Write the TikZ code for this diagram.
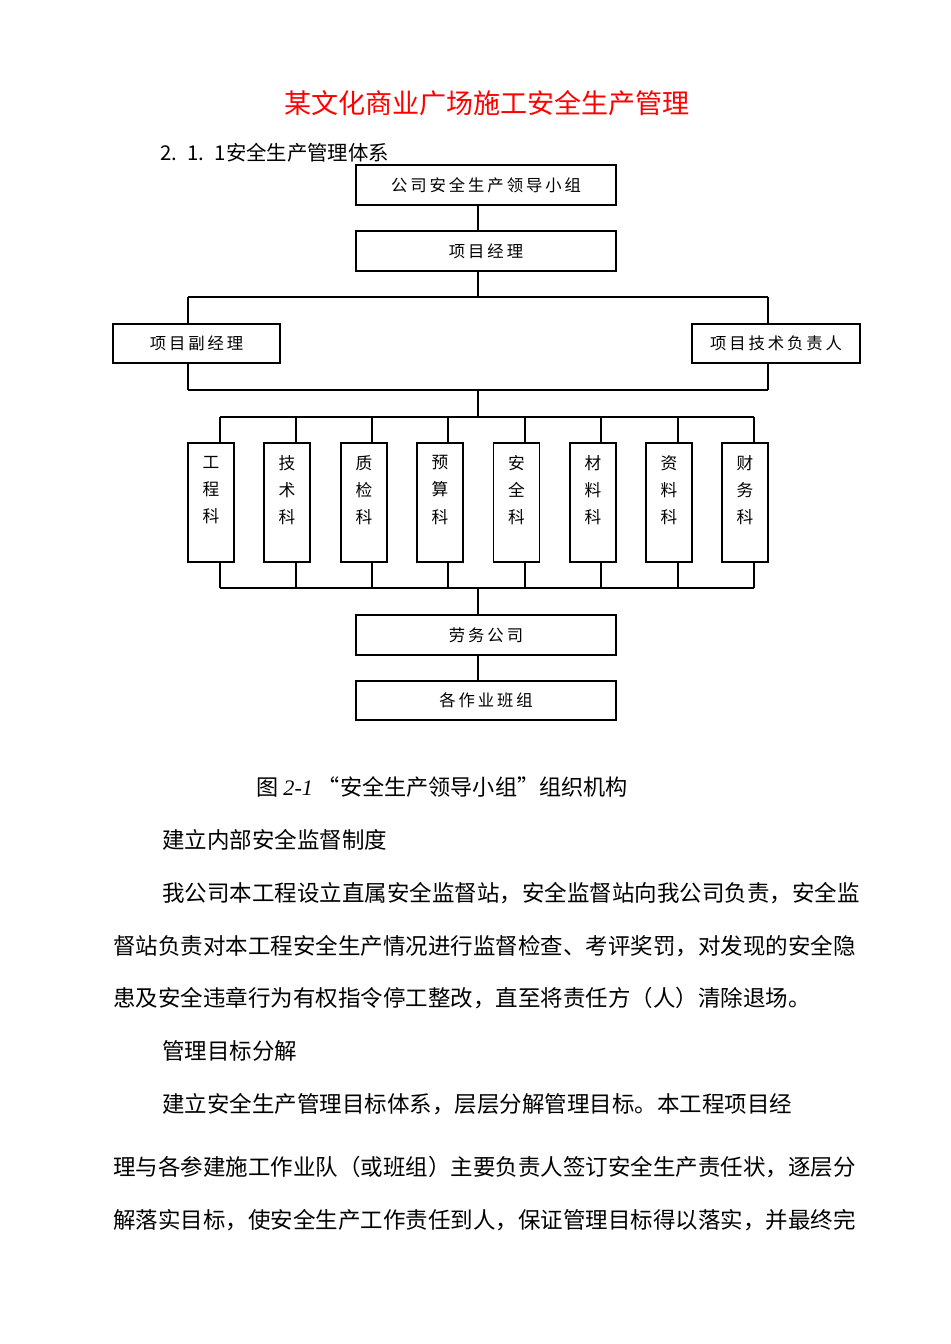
\documentclass[tikz,border=0pt]{standalone}
\usepackage{fontspec}
\setmainfont{Liberation Serif}
\newfontfamily\cjk{Noto Sans CJK SC}
\newfontfamily\cjksp[LetterSpace=18]{Noto Sans CJK SC}
\begin{document}
\begin{tikzpicture}[x=0.02cm,y=-0.02cm,
  box/.style={draw,line width=0.9pt,inner sep=0pt,font=\cjksp\fontsize{9.3pt}{11pt}\selectfont},
  dept/.style={draw,line width=0.9pt,inner sep=0pt,minimum width=0.92cm,minimum height=2.38cm},
  deptt/.style={inner sep=0pt,align=center,font=\cjk\fontsize{9.5pt}{15.4pt}\selectfont},
  ln/.style={line width=0.8pt},
  body/.style={anchor=west,inner sep=0pt,font=\cjk\fontsize{12.8pt}{15pt}\selectfont}]
\useasboundingbox[fill=white] (0,0) rectangle (950,1344);
\node[inner sep=0pt,text=red,font=\cjk\fontsize{15.4pt}{17pt}\selectfont] (title) at (487,103) {某文化商业广场施工安全生产管理};
\node[body,font=\cjk\fontsize{11.6pt}{13pt}\selectfont] (h) at (160,153) {2.\enspace 1.\enspace 1安全生产管理体系};
% boxes
\node[box,minimum width=5.2cm,minimum height=0.8cm] (a) at (486,185) {公司安全生产领导小组};
\node[box,line width=1.4pt,minimum width=5.2cm,minimum height=0.8cm] (b) at (486,251) {项目经理};
\node[box,minimum width=3.34cm,minimum height=0.78cm] (c) at (196.5,343.5) {项目副经理};
\node[box,minimum width=3.36cm,minimum height=0.78cm] (d) at (776,343.5) {项目技术负责人};
\node[box,minimum width=5.2cm,minimum height=0.8cm] (e) at (486,635) {劳务公司};
\node[box,line width=1.1pt,minimum width=5.2cm,minimum height=0.78cm] (f) at (486,700.5) {各作业班组};
\foreach \n/\x/\t in {1/211/工\\程\\科,2/287/技\\术\\科,3/364/质\\检\\科,4/440/预\\算\\科,5/516.5/安\\全\\科,6/593/材\\料\\科,7/669/资\\料\\科,8/745/财\\务\\科}{
  \node[dept] (k\n) at (\x,502.5) {};
  \node[deptt] (kt\n) at (\x,490) {\t};}
% connectors
\coordinate (t1) at (478,297); \coordinate (tl) at (188,297); \coordinate (tr) at (768,297);
\coordinate (u1) at (478,390); \coordinate (ul) at (188,390); \coordinate (ur) at (768,390);
\draw[ln,line width=1.2pt] (a.south -| t1) -- (b.north -| t1);
\draw[ln,line width=1.2pt] (b.south -| t1) -- (t1);
\draw[ln] (tl) -- (tr);
\draw[ln] (tl) -- (c.north -| tl); \draw[ln] (c.south -| ul) -- (ul);
\draw[ln] (tr) -- (d.north -| tr); \draw[ln] (d.south -| ur) -- (ur);
\draw[ln] (ul) -- (ur);
\coordinate (v1) at (478,417); \coordinate (w1) at (478,588);
\draw[ln,line width=1.2pt] (u1) -- (v1);
\coordinate (vl) at (220,417); \coordinate (vr) at (754,417);
\coordinate (wl) at (220,588); \coordinate (wr) at (754,588);
\draw[ln] (vl) -- (vr); \draw[ln] (wl) -- (wr);
\foreach \n/\x in {1/220,2/296,3/372,4/448,5/525,6/601,7/678,8/754}{
  \coordinate (p\n) at (\x,417); \coordinate (q\n) at (\x,588);
  \draw[ln] (p\n) -- (k\n.north -| p\n); \draw[ln] (k\n.south -| q\n) -- (q\n);}
\draw[ln,line width=1.2pt] (w1) -- (e.north -| w1);
\draw[ln,line width=1.2pt] (e.south -| w1) -- (f.north -| w1);
% text
\node[body,font=\cjk\fontsize{12.6pt}{14pt}\selectfont] (cap) at (256,787) {图 \textit{\rmfamily 2-1} “安全生产领导小组”组织机构};
\node[body] (l1) at (162,840) {建立内部安全监督制度};
\node[body] (l2) at (162,893) {我公司本工程设立直属安全监督站，安全监督站向我公司负责，安全监};
\node[body] (l3) at (113,946) {督站负责对本工程安全生产情况进行监督检查、考评奖罚，对发现的安全隐};
\node[body] (l4) at (113,998) {患及安全违章行为有权指令停工整改，直至将责任方（人）清除退场。};
\node[body] (l5) at (162,1051) {管理目标分解};
\node[body] (l6) at (162,1104) {建立安全生产管理目标体系，层层分解管理目标。本工程项目经};
\node[body] (l7) at (113,1167) {理与各参建施工作业队（或班组）主要负责人签订安全生产责任状，逐层分};
\node[body] (l8) at (113,1220) {解落实目标，使安全生产工作责任到人，保证管理目标得以落实，并最终完};
\end{tikzpicture}
\end{document}
